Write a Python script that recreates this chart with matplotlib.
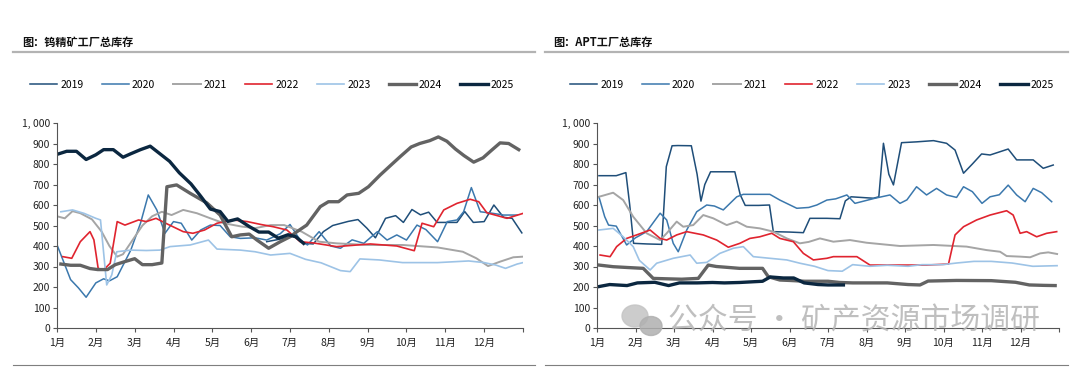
import matplotlib
matplotlib.use("Agg")
import matplotlib.pyplot as plt
from matplotlib.lines import Line2D
from matplotlib.patches import Ellipse

plt.rcParams['font.family'] = ['Noto Sans CJK SC', 'DejaVu Sans']

years = ["2019", "2020", "2021", "2022", "2023", "2024", "2025"]
colors = ["#1f4e79", "#3b78ad", "#a5a5a5", "#e0242f", "#9dc3e6", "#636363", "#0b2740"]
widths = [1.1, 1.1, 1.4, 1.2, 1.2, 2.4, 2.4]
month_labels = ["1月", "2月", "3月", "4月", "5月", "6月", "7月", "8月", "9月", "10月", "11月", "12月"]

# ---------------- 钨精矿工厂总库存 (x = months since Jan 1) ----------------
w19_x = [5.4, 5.65, 5.9, 6.1, 6.35, 6.6, 6.86, 7.1, 7.5, 7.75, 7.98, 8.2, 8.46, 8.72, 8.92, 9.14, 9.36, 9.57,
         9.79, 10.05, 10.3, 10.5, 10.72, 11.0, 11.25, 11.5, 11.72, 11.97]
w19_y = [421, 430, 440, 450, 413, 410, 470, 500, 520, 529, 487, 440, 535, 548, 515, 578, 552, 565,
         515, 515, 515, 568, 515, 519, 600, 540, 535, 464]

w20_x = [0.0, 0.35, 0.55, 0.75, 1.0, 1.2, 1.35, 1.55, 1.9, 2.15, 2.35, 2.57, 2.78, 3.0, 3.2, 3.47, 3.7,
         3.95, 4.2, 4.46, 4.72, 5.1, 5.4, 5.75, 6.0, 6.26, 6.45, 6.75, 7.05, 7.3, 7.6, 7.9, 8.25, 8.5,
         8.75, 9.0, 9.27, 9.5, 9.8, 10.05, 10.3, 10.47, 10.67, 10.9, 11.2, 11.5, 11.85]
w20_y = [406, 236, 196, 150, 220, 240, 230, 250, 380, 511, 649, 576, 462, 519, 511, 429, 478,
         502, 500, 445, 437, 440, 429, 460, 505, 429, 405, 470, 400, 389, 430, 413, 470, 429,
         454, 429, 502, 480, 421, 519, 527, 567, 685, 567, 560, 551, 551]

w21_x = [0.0, 0.2, 0.4, 0.6, 0.9, 1.15, 1.35, 1.55, 1.7, 1.95, 2.2, 2.45, 2.7, 2.95, 3.25, 3.6, 3.95,
         4.3, 4.75, 5.1, 5.5, 5.85, 6.3, 6.75, 7.2, 8.0, 8.9, 9.8, 10.45, 10.8, 11.1, 11.4, 11.75, 12.0]
w21_y = [545, 535, 570, 560, 530, 470, 400, 348, 360, 430, 500, 545, 567, 551, 576, 560, 535,
         511, 495, 487, 502, 502, 470, 421, 413, 405, 405, 393, 372, 340, 302, 323, 345, 348]

w22_x = [0.15, 0.38, 0.6, 0.85, 0.95, 1.06, 1.2, 1.37, 1.55, 1.75, 2.1, 2.3, 2.55, 2.8, 3.25, 3.5, 3.8,
         4.12, 4.54, 4.9, 5.25, 5.57, 5.92, 6.26, 6.6, 7.2, 8.07, 8.75, 9.2, 9.4, 9.7, 9.96, 10.3,
         10.64, 10.86, 11.07, 11.59, 12.0]
w22_y = [348, 340, 421, 470, 430, 291, 283, 316, 519, 502, 527, 519, 535, 511, 470, 462, 478,
         511, 527, 519, 505, 494, 478, 421, 415, 397, 410, 400, 377, 511, 494, 576, 608,
         628, 616, 562, 535, 559]

w23_x = [0.1, 0.4, 0.7, 1.0, 1.12, 1.28, 1.41, 1.54, 1.9, 2.3, 2.65, 2.91, 3.43, 3.9, 4.12, 4.72, 5.1,
         5.5, 6.0, 6.4, 6.8, 7.3, 7.55, 7.8, 8.3, 8.9, 9.8, 10.6, 11.0, 11.3, 11.55, 11.85, 12.0]
w23_y = [567, 576, 559, 535, 527, 210, 259, 372, 380, 378, 380, 397, 405, 429, 385, 380, 372,
         356, 364, 335, 318, 280, 275, 337, 332, 319, 319, 327, 319, 307, 291, 312, 319]

w24_x = [0.1, 0.35, 0.6, 0.85, 1.05, 1.3, 1.5, 1.75, 2.0, 2.2, 2.45, 2.7, 2.83, 3.08, 3.43, 3.86, 4.2,
         4.5, 4.72, 4.95, 5.15, 5.45, 5.75, 6.0, 6.18, 6.43, 6.78, 6.99, 7.25, 7.47, 7.77, 8.02, 8.32,
         8.63, 8.85, 9.12, 9.34, 9.6, 9.82, 10.04, 10.26, 10.48, 10.73, 10.97, 11.19, 11.41, 11.63, 11.89]
w24_y = [312, 306, 306, 290, 285, 285, 309, 324, 338, 309, 309, 317, 689, 698, 657, 610, 551,
         445, 454, 458, 429, 389, 421, 445, 470, 502, 592, 616, 616, 649, 657, 689, 746,
         800, 838, 883, 900, 914, 932, 911, 873, 841, 809, 830, 867, 903, 900, 870]

w25_x = [0.05, 0.25, 0.5, 0.75, 1.0, 1.2, 1.45, 1.7, 1.9, 2.15, 2.4, 2.65, 2.9, 3.15, 3.45, 3.7, 3.95,
         4.2, 4.4, 4.65, 4.95, 5.2, 5.45, 5.7, 5.95, 6.15, 6.35]
w25_y = [850, 862, 862, 822, 845, 870, 870, 833, 850, 870, 887, 850, 813, 757, 703, 643, 580,
         568, 520, 532, 495, 468, 468, 438, 455, 445, 413]

# ---------------- APT工厂总库存 ----------------
a19_x = [0.05, 0.5, 0.75, 0.85, 0.95, 1.3, 1.68, 1.8, 1.95, 2.1, 2.45, 2.6, 2.7, 2.8, 2.95, 3.3, 3.58,
         3.72, 3.85, 4.2, 4.48, 4.58, 5.0, 5.36, 5.53, 5.97, 6.31, 6.45, 6.6, 7.18, 7.32, 7.44, 7.58,
         7.7, 7.91, 8.3, 8.74, 9.08, 9.3, 9.52, 9.75, 9.99, 10.21, 10.47, 10.68, 10.9, 11.33, 11.59, 11.85]
a19_y = [743, 743, 758, 600, 413, 410, 408, 787, 889, 890, 889, 750, 619, 700, 762, 762, 762,
         650, 598, 598, 600, 470, 468, 465, 535, 535, 533, 620, 640, 633, 640, 901, 750,
         698, 904, 908, 914, 901, 868, 755, 800, 849, 844, 860, 873, 820, 820, 779, 795]

a20_x = [0.05, 0.2, 0.3, 0.5, 0.77, 1.0, 1.29, 1.64, 1.81, 1.98, 2.11, 2.33, 2.59, 2.85, 3.05, 3.28,
         3.63, 3.8, 4.49, 4.75, 5.19, 5.5, 5.71, 5.97, 6.2, 6.49, 6.7, 7.22, 7.61, 7.87, 8.05, 8.3, 8.56,
         8.82, 9.08, 9.34, 9.52, 9.75, 10.0, 10.21, 10.45, 10.68, 10.9, 11.12, 11.33, 11.55, 11.81]
a20_y = [640, 543, 502, 497, 405, 440, 470, 560, 527, 413, 372, 478, 567, 600, 595, 576,
         640, 652, 652, 624, 584, 588, 600, 624, 630, 649, 608, 633, 649, 608, 625, 689, 649,
         681, 649, 637, 689, 665, 608, 640, 650, 697, 649, 616, 681, 660, 616]

a21_x = [0.05, 0.42, 0.68, 0.94, 1.29, 1.64, 1.81, 2.07, 2.24, 2.5, 2.76, 3.02, 3.37, 3.63, 3.89, 4.23,
         4.58, 4.93, 5.27, 5.5, 5.79, 6.14, 6.57, 7.0, 7.87, 8.74, 9.6, 10.12, 10.47, 10.64, 11.0,
         11.25, 11.51, 11.72, 11.95]
a21_y = [640, 660, 624, 543, 462, 429, 462, 519, 494, 502, 551, 535, 502, 519, 494, 486,
         470, 437, 413, 420, 437, 421, 429, 416, 400, 405, 397, 380, 372, 351, 348,
         345, 364, 369, 361]

a22_x = [0.08, 0.34, 0.51, 0.77, 1.03, 1.38, 1.64, 1.81, 2.07, 2.33, 2.76, 3.11, 3.41, 3.71, 3.97, 4.23,
         4.54, 4.75, 5.1, 5.36, 5.62, 5.97, 6.14, 6.75, 7.09, 7.87, 8.56, 9.13, 9.3, 9.52, 9.86, 10.21,
         10.64, 10.81, 10.99, 11.16, 11.42, 11.68, 11.94]
a22_y = [356, 348, 397, 437, 454, 478, 437, 429, 454, 470, 454, 429, 394, 413, 437, 445,
         462, 437, 421, 364, 332, 340, 348, 348, 307, 307, 307, 312, 454, 494, 527, 551,
         572, 551, 462, 470, 445, 462, 470]

a23_x = [0.05, 0.42, 0.68, 0.94, 1.1, 1.38, 1.55, 1.98, 2.42, 2.59, 2.85, 3.19, 3.54, 3.8, 4.06, 4.49,
         4.93, 5.27, 5.65, 6.0, 6.37, 6.64, 7.09, 7.54, 8.08, 8.44, 8.98, 9.34, 9.79, 10.24, 10.78,
         11.32, 11.95]
a23_y = [478, 486, 445, 397, 330, 283, 316, 340, 356, 316, 320, 364, 389, 397, 348, 340,
         332, 316, 301, 280, 277, 309, 301, 306, 301, 309, 309, 317, 325, 325, 317,
         301, 304]

a24_x = [0.05, 0.42, 0.8, 1.2, 1.46, 1.8, 2.2, 2.63, 2.89, 3.1, 3.37, 3.7, 4.0, 4.3, 4.45, 4.75, 5.0,
         5.4, 6.0, 6.31, 6.64, 7.54, 8.08, 8.39, 8.6, 9.34, 10.24, 10.47, 10.87, 11.23, 11.6, 11.9]
a24_y = [307, 299, 295, 291, 242, 240, 238, 242, 307, 300, 296, 291, 291, 291, 250, 234, 232,
         228, 228, 222, 220, 220, 212, 210, 229, 232, 231, 228, 223, 210, 208, 207]

a25_x = [0.02, 0.33, 0.78, 1.05, 1.5, 1.86, 2.14, 2.6, 3.0, 3.31, 3.7, 4.0, 4.3, 4.5, 4.84, 5.11,
         5.38, 5.74, 6.0, 6.4]
a25_y = [201, 212, 207, 220, 223, 207, 220, 220, 222, 220, 222, 225, 228, 249, 244, 244,
         220, 212, 210, 210]

left_series = [(w19_x, w19_y), (w20_x, w20_y), (w21_x, w21_y), (w22_x, w22_y),
               (w23_x, w23_y), (w24_x, w24_y), (w25_x, w25_y)]
right_series = [(a19_x, a19_y), (a20_x, a20_y), (a21_x, a21_y), (a22_x, a22_y),
                (a23_x, a23_y), (a24_x, a24_y), (a25_x, a25_y)]

fig = plt.figure(figsize=(10.8, 3.7), dpi=100)
W, H = 1080.0, 370.0


def setup_axes(ax):
    ax.set_xlim(0, 12)
    ax.set_ylim(0, 1000)
    ax.set_yticks(range(0, 1001, 100))
    ax.set_yticklabels(["1, 000" if v == 1000 else str(v) for v in range(0, 1001, 100)])
    ax.set_xticks(range(0, 13))
    ax.set_xticklabels(month_labels + [""])
    for s in ["top", "right"]:
        ax.spines[s].set_visible(False)
    for s in ["left", "bottom"]:
        ax.spines[s].set_color("#555555")
        ax.spines[s].set_linewidth(0.8)
    ax.tick_params(axis="both", direction="out", length=3, width=0.8, color="#555555",
                   labelsize=7.5, labelcolor="#222222", pad=2)
    ax.tick_params(axis="x", pad=4)


def draw_panel(ax, series):
    for (xs, ys), c, lw, lab in zip(series, colors, widths, years):
        ax.plot(xs, ys, color=c, lw=lw, label=lab, solid_joinstyle="round")
    setup_axes(ax)


axL = fig.add_axes([57 / W, 1 - 328 / H, 466 / W, 205 / H])
axR = fig.add_axes([597 / W, 1 - 328 / H, 462 / W, 205 / H])
draw_panel(axL, left_series)
draw_panel(axR, right_series)

# legends
handles = [Line2D([0], [0], color=c, lw=lw) for c, lw in zip(colors, widths)]
for cx in (272 / W, 812 / W):
    fig.legend(handles, years, loc="center", bbox_to_anchor=(cx, 1 - 85 / H), ncol=7,
               frameon=False, fontsize=7.5, handlelength=2.6, handletextpad=0.3,
               columnspacing=1.75)

# titles and rules
fig.text(22 / W, 1 - 42 / H, "图：钨精矿工厂总库存", fontsize=8, fontweight="bold",
         va="center", ha="left", color="#111111")
fig.text(553 / W, 1 - 42 / H, "图：APT工厂总库存", fontsize=8, fontweight="bold",
         va="center", ha="left", color="#111111")
for x0, x1 in ((13, 535), (545, 1068)):
    fig.add_artist(Line2D([x0 / W, x1 / W], [1 - 52 / H, 1 - 52 / H], color="#b3b3b3", lw=1.6,
                          transform=fig.transFigure))
    fig.add_artist(Line2D([x0 / W, x1 / W], [1 - 365 / H, 1 - 365 / H], color="#7f7f7f", lw=0.8,
                          transform=fig.transFigure))

# watermark
fig.add_artist(Ellipse((635 / W, 1 - 316 / H), 26 / W, 22 / H, transform=fig.transFigure,
                       color="#c4c4c4", alpha=0.85, zorder=5))
fig.add_artist(Ellipse((651 / W, 1 - 326 / H), 22 / W, 19 / H, transform=fig.transFigure,
                       color="#b0b0b0", alpha=0.85, zorder=5))
fig.text(668 / W, 1 - 321 / H, "公众号 · 矿产资源市场调研", fontsize=21.5, color="#b4b4b4",
         alpha=0.85, va="center", ha="left", zorder=6)

fig.savefig("out.png", dpi=100, facecolor="white")
